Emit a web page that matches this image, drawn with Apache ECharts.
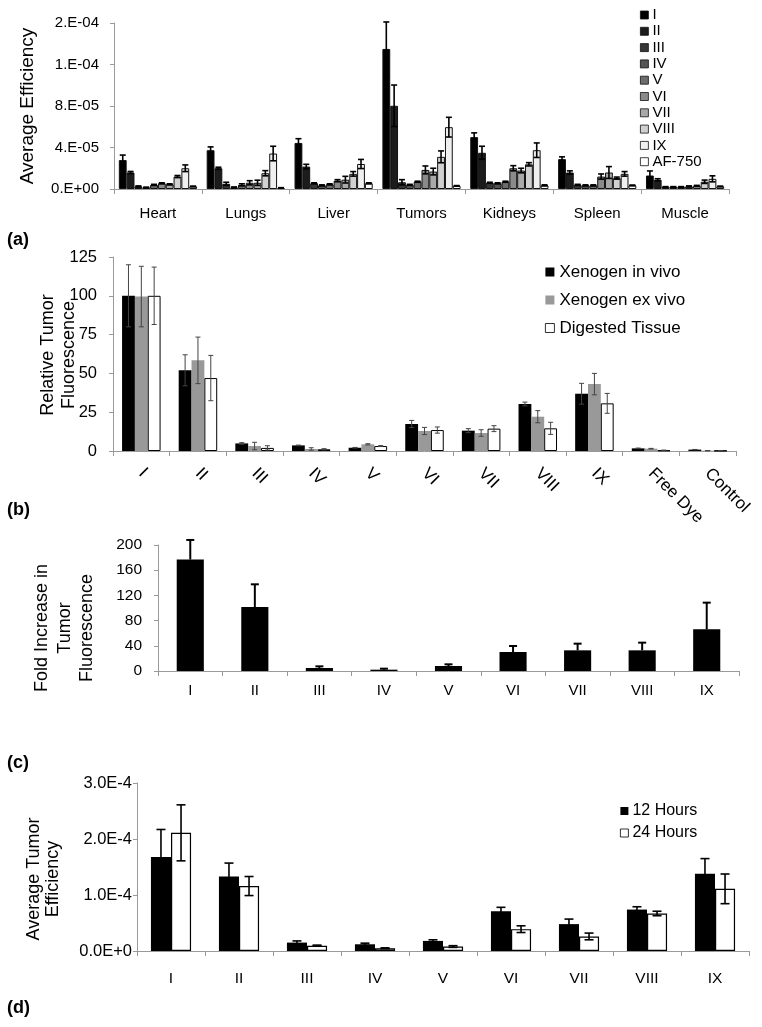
<!DOCTYPE html>
<html><head><meta charset="utf-8">
<script src="https://cdn.jsdelivr.net/npm/echarts@6/dist/echarts.min.js"></script>
<style>html,body{margin:0;padding:0;background:#fff}#c{width:762px;height:1027px}</style>
</head><body><div id="c"></div>
<script>
// ---------- Panel (a) data ----------
const organs = ['Heart','Lungs','Liver','Tumors','Kidneys','Spleen','Muscle'];
const effNames = ['I','II','III','IV','V','VI','VII','VIII','IX','AF-750'];
const aTickLabels = ['0.E+00','4.E-05','8.E-05','1.E-04','2.E-04'];
const effI    = [2.79e-5, 3.74e-5, 4.44e-5, 13.5e-5, 5.0e-5, 2.88e-5, 1.3e-5];
const effII   = [1.59e-5, 2.0e-5, 2.16e-5, 8.02e-5, 3.49e-5, 1.59e-5, 0.89e-5];
const effIII  = [0.25e-5, 0.5e-5, 0.55e-5, 0.65e-5, 0.6e-5, 0.4e-5, 0.2e-5];
const effIV   = [0.15e-5, 0.15e-5, 0.35e-5, 0.4e-5, 0.55e-5, 0.35e-5, 0.2e-5];
const effV    = [0.4e-5, 0.4e-5, 0.45e-5, 0.7e-5, 0.7e-5, 0.35e-5, 0.2e-5];
const effVI   = [0.55e-5, 0.6e-5, 0.8e-5, 1.84e-5, 2.0e-5, 1.2e-5, 0.25e-5];
const effVII  = [0.45e-5, 0.6e-5, 0.9e-5, 1.68e-5, 1.78e-5, 1.59e-5, 0.3e-5];
const effVIII = [1.2e-5, 1.52e-5, 1.46e-5, 3.1e-5, 2.38e-5, 1.05e-5, 0.7e-5];
const effIX   = [2.0e-5, 3.42e-5, 2.41e-5, 5.96e-5, 3.74e-5, 1.46e-5, 0.98e-5];
const effAF   = [0.25e-5, 0.1e-5, 0.55e-5, 0.3e-5, 0.35e-5, 0.35e-5, 0.25e-5];
const errI    = [0.48e-5, 0.32e-5, 0.41e-5, 2.6e-5, 0.41e-5, 0.22e-5, 0.44e-5];
const errII   = [0.1e-5, 0.1e-5, 0.22e-5, 2.0e-5, 0.63e-5, 0.16e-5, 0.1e-5];
const errIII  = [0.05e-5, 0.15e-5, 0.05e-5, 0.25e-5, 0.05e-5, 0.05e-5, 0.03e-5];
const errIV   = [0.03e-5, 0.05e-5, 0.05e-5, 0.05e-5, 0.05e-5, 0.05e-5, 0.03e-5];
const errV    = [0.05e-5, 0.1e-5, 0.05e-5, 0.05e-5, 0.05e-5, 0.05e-5, 0.03e-5];
const errVI   = [0.05e-5, 0.2e-5, 0.1e-5, 0.38e-5, 0.25e-5, 0.25e-5, 0.05e-5];
const errVII  = [0.05e-5, 0.25e-5, 0.32e-5, 0.32e-5, 0.22e-5, 0.57e-5, 0.05e-5];
const errVIII = [0.1e-5, 0.25e-5, 0.22e-5, 0.57e-5, 0.16e-5, 0.1e-5, 0.16e-5];
const errIX   = [0.32e-5, 0.7e-5, 0.44e-5, 0.95e-5, 0.7e-5, 0.22e-5, 0.29e-5];
const errAF   = [0.03e-5, 0.03e-5, 0.05e-5, 0.03e-5, 0.05e-5, 0.03e-5, 0.03e-5];

// ---------- Panel (b) data ----------
const bCats = ['I','II','III','IV','V','VI','VII','VIII','IX','Free Dye','Control'];
const bNames = ['Xenogen in vivo','Xenogen ex vivo','Digested Tissue'];
const inVivo    = [100, 52, 4.9, 3.6, 2.1, 17.4, 13.1, 30.3, 36.9, 1.7, 0.9];
const inVivoErr = [20, 10, 0.5, 0.2, 0.2, 2.3, 1.3, 1.2, 6.7, 0.2, 0.1];
const exVivo    = [99.5, 58.4, 3.2, 1.3, 4.3, 12.9, 11.6, 22.1, 43.1, 1.5, 0.2];
const exVivoErr = [19.5, 15, 2.4, 0.8, 0.4, 2.3, 2.1, 3.9, 6.9, 0.2, 0.1];
const digested    = [100, 47, 2, 1.1, 3.2, 13.5, 14.4, 14.6, 30.7, 0.4, 0.2];
const digestedErr = [18.5, 14.6, 1.4, 0.4, 0.3, 2.0, 1.9, 3.9, 6.4, 0.2, 0.1];

// ---------- Panel (c) data ----------
const cCats = ['I','II','III','IV','V','VI','VII','VIII','IX'];
const fold    = [177, 101.6, 4.8, 2.1, 7.9, 30.2, 32.8, 32.8, 66.1];
const foldErr = [31, 36, 2.6, 1.6, 2.7, 9.5, 10.6, 12.2, 42.4];

// ---------- Panel (d) data ----------
const dCats = ['I','II','III','IV','V','VI','VII','VIII','IX'];
const dNames = ['12 Hours','24 Hours'];
const dTickLabels = ['0.0E+0','1.0E-4','2.0E-4','3.0E-4'];
const h12    = [1.68e-4, 1.33e-4, 0.15e-4, 0.12e-4, 0.18e-4, 0.71e-4, 0.48e-4, 0.74e-4, 1.38e-4];
const h12Err = [0.49e-4, 0.24e-4, 0.03e-4, 0.02e-4, 0.02e-4, 0.07e-4, 0.09e-4, 0.05e-4, 0.27e-4];
const h24    = [2.11e-4, 1.16e-4, 0.095e-4, 0.05e-4, 0.08e-4, 0.39e-4, 0.26e-4, 0.67e-4, 1.11e-4];
const h24Err = [0.5e-4, 0.17e-4, 0.01e-4, 0.006e-4, 0.015e-4, 0.06e-4, 0.06e-4, 0.04e-4, 0.265e-4];

// ---------- styling ----------
const FONT = "'Liberation Sans', Arial, Helvetica, sans-serif";
const AX = '#9a9a9a';
const effVals = [effI,effII,effIII,effIV,effV,effVI,effVII,effVIII,effIX,effAF];
const effErrs = [errI,errII,errIII,errIV,errV,errVI,errVII,errVIII,errIX,errAF];
const effColors = ['#000000','#1c1c1c','#363636','#555555','#6c6c6c','#8a8a8a','#a9a9a9','#d0d0d0','#efefef','#ffffff'];

const GAP_A = 0.11, GAP_B = 0.32, GAP_C = 0.58, GAP_D = 0.41;

function errBars(g, n, k, gap, vals, errs, o) {
  return {
    type: 'custom', xAxisIndex: g, yAxisIndex: g, z: 5, silent: true,
    data: vals.map((v, i) => [i, v, errs[i]]),
    encode: { x: 0, y: 1 },
    renderItem: function (params, api) {
      const c = api.value(0), v = api.value(1), e = api.value(2);
      const band = api.size([1, 0])[0];
      const bw = band * (1 - gap) / n;
      const x = api.coord([c, v])[0] - n * bw / 2 + (k + 0.5) * bw;
      const yT = api.coord([c, v + e])[1];
      const yB = api.coord([c, o.oneSided ? v : Math.max(v - e, 0)])[1];
      const h = o.cap / 2;
      const st = { stroke: o.color, lineWidth: o.lw };
      const ch = [
        { type: 'line', shape: { x1: x, y1: yT, x2: x, y2: yB }, style: st },
        { type: 'line', shape: { x1: x - h, y1: yT, x2: x + h, y2: yT }, style: st }
      ];
      if (!o.oneSided) ch.push({ type: 'line', shape: { x1: x - h, y1: yB, x2: x + h, y2: yB }, style: st });
      return { type: 'group', children: ch };
    }
  };
}

function catAxis(g, data, labelOpt) {
  return {
    type: 'category', gridIndex: g, data: data,
    axisLine: { lineStyle: { color: AX, width: 1 } },
    axisTick: { show: true, length: 5, lineStyle: { color: AX } },
    axisLabel: Object.assign({ interval: 0, color: '#000', fontFamily: FONT }, labelOpt)
  };
}
function valAxis(g, max, interval, labelOpt) {
  return {
    type: 'value', gridIndex: g, min: 0, max: max, interval: interval,
    splitLine: { show: false },
    axisLine: { show: true, lineStyle: { color: AX, width: 1 } },
    axisTick: { show: true, length: 4, lineStyle: { color: AX } },
    axisLabel: Object.assign({ color: '#000', fontFamily: FONT }, labelOpt)
  };
}

const series = [];
// panel a
effNames.forEach((nm, k) => {
  series.push({
    name: nm, type: 'bar', xAxisIndex: 0, yAxisIndex: 0, data: effVals[k],
    barGap: '0%', barCategoryGap: (GAP_A * 100) + '%',
    itemStyle: { color: effColors[k], borderColor: '#111', borderWidth: 1 }
  });
});
effNames.forEach((nm, k) => {
  series.push(errBars(0, 10, k, GAP_A, effVals[k], effErrs[k], { cap: 6, lw: 1.6, color: '#000' }));
});
// panel b
const bVals = [inVivo, exVivo, digested], bErrs = [inVivoErr, exVivoErr, digestedErr];
const bStyles = [
  { color: '#000000', borderWidth: 0 },
  { color: '#999999', borderWidth: 0 },
  { color: '#ffffff', borderColor: '#000', borderWidth: 1 }
];
bNames.forEach((nm, k) => {
  series.push({
    name: nm, type: 'bar', xAxisIndex: 1, yAxisIndex: 1, data: bVals[k],
    barGap: '0%', barCategoryGap: (GAP_B * 100) + '%', itemStyle: bStyles[k]
  });
});
bNames.forEach((nm, k) => {
  series.push(errBars(1, 3, k, GAP_B, bVals[k], bErrs[k], { cap: 5, lw: 1, color: '#444' }));
});
// panel c
series.push({
  name: 'Fold Increase', type: 'bar', xAxisIndex: 2, yAxisIndex: 2, data: fold,
  barCategoryGap: (GAP_C * 100) + '%', itemStyle: { color: '#000' }
});
series.push(errBars(2, 1, 0, GAP_C, fold, foldErr, { cap: 8, lw: 2, color: '#000', oneSided: true }));
// panel d
const dVals = [h12, h24], dErrs = [h12Err, h24Err];
const dStyles = [
  { color: '#000000', borderWidth: 0 },
  { color: '#ffffff', borderColor: '#000', borderWidth: 1.2 }
];
dNames.forEach((nm, k) => {
  series.push({
    name: nm, type: 'bar', xAxisIndex: 3, yAxisIndex: 3, data: dVals[k],
    barGap: '0%', barCategoryGap: (GAP_D * 100) + '%', itemStyle: dStyles[k]
  });
});
dNames.forEach((nm, k) => {
  series.push(errBars(3, 2, k, GAP_D, dVals[k], dErrs[k], { cap: 9, lw: 1.6, color: '#000' }));
});

function txt(x, y, text, font, opts) {
  return Object.assign({
    type: 'text', x: x, y: y, silent: true,
    style: Object.assign({ text: text, fill: '#000', font: font, align: 'center', verticalAlign: 'middle' }, opts && opts.style || {})
  }, opts && opts.el || {});
}
const LEG_ITEM = { borderWidth: 0.8 };

const option = {
  animation: false,
  backgroundColor: '#fff',
  textStyle: { fontFamily: FONT },
  grid: [
    { left: 114, right: 33, top: 23, bottom: 838 },
    { left: 113, right: 26, top: 257, bottom: 576 },
    { left: 158, right: 23, top: 545, bottom: 356 },
    { left: 137, right: 13, top: 783, bottom: 76 }
  ],
  xAxis: [
    catAxis(0, organs, { fontSize: 15, margin: 17 }),
    catAxis(1, bCats, { fontSize: 17, margin: 20, rotate: -45 }),
    catAxis(2, cCats, { fontSize: 15, margin: 12 }),
    catAxis(3, dCats, { fontSize: 15.5, margin: 20 })
  ],
  yAxis: [
    valAxis(0, 1.6e-4, 4e-5, { fontSize: 15, margin: 15, formatter: v => aTickLabels[Math.round(v / 4e-5)] }),
    valAxis(1, 125, 25, { fontSize: 16.5, margin: 16 }),
    valAxis(2, 200, 40, { fontSize: 15.5, margin: 16 }),
    valAxis(3, 3e-4, 1e-4, { fontSize: 16.5, margin: 5, formatter: v => dTickLabels[Math.round(v / 1e-4)] })
  ],
  legend: [
    { data: effNames, orient: 'vertical', left: 640, top: 7.5, padding: 0, itemGap: 1.3,
      itemWidth: 8, itemHeight: 8, icon: 'rect', itemStyle: LEG_ITEM,
      textStyle: { fontSize: 15, lineHeight: 15, color: '#000', fontFamily: FONT, padding: [0, 0, 0, -1] } },
    { data: bNames, orient: 'vertical', left: 545, top: 263.5, padding: 0, itemGap: 11,
      itemWidth: 9, itemHeight: 9, icon: 'rect', itemStyle: LEG_ITEM,
      textStyle: { fontSize: 17, lineHeight: 17, color: '#000', fontFamily: FONT } },
    { data: dNames, orient: 'vertical', left: 620, top: 803, padding: 0, itemGap: 6,
      itemWidth: 8, itemHeight: 8, icon: 'rect', itemStyle: LEG_ITEM,
      textStyle: { fontSize: 16, lineHeight: 16, color: '#000', fontFamily: FONT, padding: [0, 0, 0, -1] } }
  ],
  graphic: [
    txt(28, 106, 'Average Efficiency', '19px ' + FONT, { el: { rotation: Math.PI / 2 } }),
    txt(58.5, 355, 'Relative Tumor\nFluorescence', '18px ' + FONT, { el: { rotation: Math.PI / 2 }, style: { lineHeight: 21 } }),
    txt(65, 628, 'Fold Increase in\nTumor\nFluorescence', '18px ' + FONT, { el: { rotation: Math.PI / 2 }, style: { lineHeight: 22.5 } }),
    txt(43.5, 879, 'Average Tumor\nEfficiency', '18px ' + FONT, { el: { rotation: Math.PI / 2 }, style: { lineHeight: 19 } }),
    txt(7, 240, '(a)', 'bold 18px ' + FONT, { style: { align: 'left' } }),
    txt(7, 510, '(b)', 'bold 18px ' + FONT, { style: { align: 'left' } }),
    txt(7, 763, '(c)', 'bold 18px ' + FONT, { style: { align: 'left' } }),
    txt(7, 1008, '(d)', 'bold 18px ' + FONT, { style: { align: 'left' } })
  ],
  series: series
};
const chart = echarts.init(document.getElementById('c'), null, { renderer: 'canvas' });
chart.setOption(option);
</script></body></html>
